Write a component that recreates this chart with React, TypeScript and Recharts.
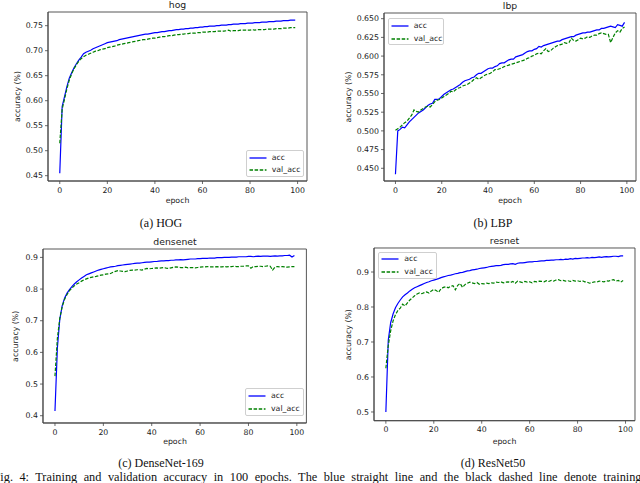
import React from 'react';
import { LineChart, Line, XAxis, YAxis, Legend, ReferenceArea } from 'recharts';

const epochs: number[] = Array.from({ length: 100 }, (_, i) => i);
const xTicks = [0, 20, 40, 60, 80, 100];

const hogAcc = [
  0.455, 0.588, 0.608, 0.628, 0.645, 0.656, 0.666, 0.674, 0.681, 0.687,
  0.694, 0.697, 0.699, 0.701, 0.704, 0.706, 0.708, 0.710, 0.712, 0.714,
  0.716, 0.717, 0.718, 0.719, 0.720, 0.722, 0.723, 0.724, 0.725, 0.726,
  0.727, 0.728, 0.729, 0.730, 0.731, 0.732, 0.733, 0.733, 0.734, 0.735,
  0.736, 0.736, 0.737, 0.738, 0.738, 0.739, 0.740, 0.740, 0.741, 0.742,
  0.742, 0.743, 0.743, 0.744, 0.744, 0.745, 0.745, 0.746, 0.746, 0.747,
  0.747, 0.748, 0.748, 0.749, 0.749, 0.749, 0.750, 0.750, 0.751, 0.751,
  0.751, 0.752, 0.752, 0.753, 0.753, 0.753, 0.754, 0.754, 0.754, 0.755,
  0.755, 0.755, 0.756, 0.756, 0.756, 0.757, 0.757, 0.757, 0.758, 0.758,
  0.758, 0.759, 0.759, 0.759, 0.760, 0.760, 0.760, 0.761, 0.761, 0.761,
];
const hogVal = [
  0.515, 0.583, 0.603, 0.624, 0.641, 0.654, 0.664, 0.672, 0.679, 0.684,
  0.688, 0.691, 0.693, 0.695, 0.697, 0.699, 0.700, 0.702, 0.703, 0.704,
  0.706, 0.707, 0.708, 0.709, 0.711, 0.712, 0.713, 0.714, 0.715, 0.716,
  0.717, 0.718, 0.719, 0.720, 0.721, 0.722, 0.722, 0.723, 0.724, 0.725,
  0.725, 0.726, 0.727, 0.728, 0.728, 0.729, 0.730, 0.730, 0.731, 0.732,
  0.732, 0.733, 0.733, 0.734, 0.734, 0.735, 0.735, 0.735, 0.736, 0.736,
  0.737, 0.737, 0.737, 0.738, 0.738, 0.738, 0.739, 0.739, 0.739, 0.739,
  0.740, 0.741, 0.739, 0.740, 0.740, 0.740, 0.741, 0.741, 0.741, 0.741,
  0.741, 0.742, 0.741, 0.742, 0.742, 0.742, 0.742, 0.743, 0.743, 0.743,
  0.743, 0.744, 0.744, 0.744, 0.745, 0.745, 0.745, 0.746, 0.746, 0.746,
];
const lbpAcc = [
  0.442, 0.500, 0.502, 0.505, 0.504, 0.508, 0.512, 0.515, 0.518, 0.521,
  0.524, 0.526, 0.528, 0.531, 0.534, 0.536, 0.537, 0.542, 0.542, 0.543,
  0.546, 0.549, 0.551, 0.553, 0.555, 0.556, 0.558, 0.560, 0.562, 0.565,
  0.567, 0.568, 0.569, 0.571, 0.572, 0.575, 0.577, 0.577, 0.579, 0.581,
  0.583, 0.584, 0.584, 0.586, 0.587, 0.590, 0.591, 0.591, 0.593, 0.595,
  0.596, 0.596, 0.599, 0.600, 0.601, 0.602, 0.604, 0.606, 0.607, 0.607,
  0.609, 0.610, 0.613, 0.612, 0.614, 0.615, 0.616, 0.617, 0.618, 0.619,
  0.620, 0.620, 0.622, 0.623, 0.624, 0.625, 0.626, 0.626, 0.628, 0.629,
  0.630, 0.631, 0.631, 0.632, 0.632, 0.633, 0.634, 0.635, 0.635, 0.637,
  0.637, 0.638, 0.639, 0.640, 0.639, 0.638, 0.642, 0.641, 0.640, 0.645,
];
const lbpVal = [
  0.501, 0.503, 0.505, 0.508, 0.511, 0.513, 0.517, 0.521, 0.528, 0.526,
  0.525, 0.528, 0.530, 0.532, 0.533, 0.532, 0.535, 0.539, 0.541, 0.542,
  0.544, 0.546, 0.548, 0.550, 0.553, 0.552, 0.555, 0.557, 0.558, 0.560,
  0.561, 0.562, 0.564, 0.566, 0.569, 0.571, 0.569, 0.571, 0.573, 0.575,
  0.576, 0.577, 0.579, 0.582, 0.582, 0.583, 0.584, 0.586, 0.587, 0.588,
  0.589, 0.590, 0.591, 0.592, 0.593, 0.594, 0.595, 0.597, 0.598, 0.600,
  0.601, 0.603, 0.604, 0.603, 0.607, 0.610, 0.606, 0.607, 0.610, 0.612,
  0.614, 0.615, 0.616, 0.618, 0.617, 0.618, 0.624, 0.621, 0.620, 0.622,
  0.624, 0.623, 0.624, 0.626, 0.625, 0.627, 0.628, 0.628, 0.630, 0.631,
  0.630, 0.629, 0.629, 0.618, 0.625, 0.631, 0.634, 0.632, 0.637, 0.639,
];
const denseAcc = [
  0.415, 0.615, 0.705, 0.748, 0.772, 0.787, 0.798, 0.808, 0.816, 0.823,
  0.829, 0.835, 0.840, 0.845, 0.848, 0.851, 0.854, 0.857, 0.860, 0.862,
  0.864, 0.866, 0.868, 0.870, 0.871, 0.872, 0.874, 0.875, 0.876, 0.877,
  0.878, 0.879, 0.880, 0.881, 0.882, 0.882, 0.883, 0.884, 0.885, 0.885,
  0.886, 0.887, 0.887, 0.888, 0.889, 0.889, 0.890, 0.890, 0.891, 0.891,
  0.892, 0.892, 0.893, 0.892, 0.893, 0.894, 0.895, 0.895, 0.895, 0.896,
  0.896, 0.897, 0.897, 0.897, 0.898, 0.898, 0.898, 0.899, 0.899, 0.899,
  0.900, 0.900, 0.900, 0.901, 0.901, 0.901, 0.902, 0.902, 0.902, 0.902,
  0.903, 0.903, 0.902, 0.903, 0.904, 0.903, 0.904, 0.904, 0.904, 0.903,
  0.904, 0.905, 0.904, 0.905, 0.905, 0.906, 0.906, 0.907, 0.901, 0.906,
];
const denseVal = [
  0.525, 0.645, 0.708, 0.745, 0.768, 0.783, 0.795, 0.803, 0.810, 0.816,
  0.820, 0.825, 0.829, 0.832, 0.835, 0.837, 0.839, 0.840, 0.842, 0.844,
  0.845, 0.847, 0.848, 0.849, 0.853, 0.856, 0.858, 0.857, 0.856, 0.855,
  0.857, 0.859, 0.860, 0.860, 0.861, 0.861, 0.860, 0.863, 0.865, 0.864,
  0.865, 0.866, 0.867, 0.866, 0.867, 0.868, 0.866, 0.865, 0.867, 0.869,
  0.870, 0.869, 0.868, 0.868, 0.869, 0.867, 0.868, 0.868, 0.867, 0.868,
  0.869, 0.870, 0.870, 0.871, 0.870, 0.870, 0.870, 0.871, 0.870, 0.870,
  0.871, 0.870, 0.871, 0.871, 0.872, 0.871, 0.871, 0.872, 0.872, 0.873,
  0.873, 0.866, 0.871, 0.871, 0.872, 0.872, 0.871, 0.872, 0.873, 0.872,
  0.860, 0.870, 0.871, 0.870, 0.871, 0.870, 0.869, 0.870, 0.871, 0.871,
];
const resAcc = [
  0.500, 0.705, 0.755, 0.780, 0.798, 0.810, 0.820, 0.829, 0.835, 0.840,
  0.846, 0.851, 0.855, 0.858, 0.861, 0.864, 0.867, 0.870, 0.872, 0.875,
  0.877, 0.879, 0.881, 0.884, 0.886, 0.888, 0.890, 0.891, 0.893, 0.895,
  0.896, 0.898, 0.899, 0.901, 0.903, 0.904, 0.906, 0.907, 0.908, 0.910,
  0.911, 0.912, 0.913, 0.915, 0.916, 0.917, 0.918, 0.918, 0.919, 0.921,
  0.922, 0.922, 0.923, 0.924, 0.922, 0.925, 0.926, 0.926, 0.927, 0.928,
  0.929, 0.929, 0.930, 0.930, 0.931, 0.932, 0.932, 0.933, 0.933, 0.934,
  0.934, 0.935, 0.935, 0.936, 0.935, 0.937, 0.936, 0.938, 0.937, 0.939,
  0.938, 0.939, 0.940, 0.940, 0.941, 0.940, 0.942, 0.941, 0.942, 0.943,
  0.942, 0.943, 0.944, 0.943, 0.944, 0.945, 0.945, 0.944, 0.946, 0.946,
];
const resVal = [
  0.625, 0.690, 0.732, 0.760, 0.778, 0.790, 0.797, 0.808, 0.803, 0.812,
  0.820, 0.826, 0.832, 0.837, 0.840, 0.838, 0.841, 0.843, 0.840, 0.846,
  0.850, 0.847, 0.842, 0.852, 0.856, 0.858, 0.855, 0.859, 0.861, 0.849,
  0.862, 0.867, 0.856, 0.864, 0.868, 0.871, 0.869, 0.867, 0.870, 0.865,
  0.867, 0.866, 0.868, 0.867, 0.869, 0.868, 0.871, 0.870, 0.872, 0.869,
  0.871, 0.872, 0.870, 0.873, 0.868, 0.874, 0.872, 0.870, 0.873, 0.871,
  0.872, 0.869, 0.873, 0.872, 0.874, 0.873, 0.872, 0.875, 0.873, 0.876,
  0.874, 0.877, 0.878, 0.875, 0.876, 0.874, 0.875, 0.873, 0.876, 0.874,
  0.875, 0.873, 0.875, 0.872, 0.871, 0.868, 0.870, 0.872, 0.871, 0.874,
  0.873, 0.872, 0.875, 0.874, 0.877, 0.878, 0.874, 0.876, 0.871, 0.876,
];

const hogTicks = [0.45, 0.5, 0.55, 0.6, 0.65, 0.7, 0.75];
const lbpTicks = [0.45, 0.475, 0.5, 0.525, 0.55, 0.575, 0.6, 0.625, 0.65];
const denseTicks = [0.4, 0.5, 0.6, 0.7, 0.8, 0.9];
const resTicks = [0.5, 0.6, 0.7, 0.8, 0.9];

const titles = ['hog', 'lbp', 'densenet', 'resnet'];
const captions = ['(a) HOG', '(b) LBP', '(c) DenseNet-169', '(d) ResNet50'];
const seriesNames = ['acc', 'val_acc'];
const xLabel = 'epoch';
const yLabel = 'accuracy (%)';
const figText =
  'Fig. 4: Training and validation accuracy in 100 epochs. The blue straight line and the black dashed line denote training';

const SANS = 'DejaVu Sans';
const SERIF = 'Liberation Serif';
const TXT = '#222';
const AX = '#444';
const TICK_FS = 7.8;
const X_DOMAIN: [number, number] = [-4.95, 103.95];

type Cfg = {
  acc: number[];
  val: number[];
  L: number; R: number; T: number; B: number;
  yDomain: [number, number];
  yTicks: number[];
  dec: number;
  legend: { x: number; y: number; w: number; h: number };
};

const panels: Cfg[] = [
  { acc: hogAcc, val: hogVal, L: 48, R: 307, T: 12, B: 181, yDomain: [0.4394, 0.7774], yTicks: hogTicks, dec: 2,
    legend: { x: 245.7, y: 150, w: 58, h: 27 } },
  { acc: lbpAcc, val: lbpVal, L: 384, R: 636, T: 13, B: 181, yDomain: [0.433, 0.6576], yTicks: lbpTicks, dec: 3,
    legend: { x: 387.7, y: 18.3, w: 56, h: 26.5 } },
  { acc: denseAcc, val: denseVal, L: 43.3, R: 306.7, T: 249.3, B: 423.3, yDomain: [0.377, 0.9265], yTicks: denseTicks, dec: 1,
    legend: { x: 245, y: 388.5, w: 59, h: 28 } },
  { acc: resAcc, val: resVal, L: 374, R: 635, T: 248.3, B: 421, yDomain: [0.4751, 0.9686], yTicks: resTicks, dec: 1,
    legend: { x: 378.3, y: 251.7, w: 58.5, h: 27 } },
];

const YW = 40;
const XH = 14;
const PAD_T = 2;
const PAD_R = 3;

function makeLegend(w: number, h: number) {
  return (props: any) => {
    const items: any[] = props.payload || [];
    return (
      <div
        style={{
          width: w, height: h, boxSizing: 'border-box', border: '1px solid #cfcfcf', borderRadius: 2,
          background: 'rgba(255,255,255,0.85)', paddingTop: 0.5,
        }}
      >
        {items.map((it) => (
          <div key={String(it.dataKey)} style={{ height: 12.5, display: 'flex', alignItems: 'center' }}>
            <svg width={25} height={12} style={{ display: 'block' }}>
              <line
                x1={2.5} x2={19.5} y1={6} y2={6} stroke={it.color} strokeWidth={1.3}
                strokeDasharray={it.dataKey === 'val_acc' ? '3.5 1.6' : undefined}
              />
            </svg>
            <span style={{ fontFamily: SANS, fontSize: TICK_FS, color: TXT, lineHeight: '12px' }}>{it.value}</span>
          </div>
        ))}
      </div>
    );
  };
}

function Panel({ cfg }: { cfg: Cfg }) {
  const data = epochs.map((e, i) => ({ epoch: e, acc: cfg.acc[i], val_acc: cfg.val[i] }));
  const w = cfg.R - cfg.L + YW + PAD_R;
  const h = cfg.B - cfg.T + PAD_T + XH;
  const left = cfg.L - YW;
  const top = cfg.T - PAD_T;
  const tickStyle = { fontFamily: SANS, fontSize: TICK_FS, fill: TXT };
  return (
    <div style={{ position: 'absolute', left, top, width: w, height: h }}>
      <LineChart width={w} height={h} data={data} margin={{ top: PAD_T, right: PAD_R, bottom: 0, left: 0 }}>
        <XAxis
          xAxisId="b" dataKey="epoch" type="number" domain={X_DOMAIN} allowDataOverflow ticks={xTicks}
          interval={0} height={XH} tickSize={3} tickMargin={3} tick={tickStyle}
          stroke={AX} axisLine={{ stroke: AX, strokeWidth: 0.9 }} tickLine={{ stroke: AX, strokeWidth: 0.8 }}
        />
        <YAxis
          yAxisId="l" type="number" domain={cfg.yDomain} allowDataOverflow ticks={cfg.yTicks} interval={0}
          width={YW} tickSize={3} tickMargin={2} tick={tickStyle}
          tickFormatter={(v: number) => v.toFixed(cfg.dec)}
          axisLine={{ stroke: AX, strokeWidth: 0.9 }} tickLine={{ stroke: AX, strokeWidth: 0.8 }}
        />
        <Line
          xAxisId="b" yAxisId="l" type="linear" dataKey="acc" name={seriesNames[0]} stroke="#0000ff"
          strokeWidth={1.2} dot={false} activeDot={false} isAnimationActive={false}
        />
        <Line
          xAxisId="b" yAxisId="l" type="linear" dataKey="val_acc" name={seriesNames[1]} stroke="#008000"
          strokeWidth={1.2} strokeDasharray="3.5 1.6" dot={false} activeDot={false} isAnimationActive={false}
        />
        <ReferenceArea
          xAxisId="b" yAxisId="l" x1={X_DOMAIN[0]} x2={X_DOMAIN[1]} y1={cfg.yDomain[0]} y2={cfg.yDomain[1]}
          fill="none" fillOpacity={0} stroke={AX} strokeWidth={0.9} ifOverflow="visible"
        />
        <Legend
          layout="horizontal" align="center" verticalAlign="middle"
          content={makeLegend(cfg.legend.w, cfg.legend.h)}
          wrapperStyle={{ left: cfg.legend.x - left, top: cfg.legend.y - top, width: cfg.legend.w, height: cfg.legend.h, bottom: 'auto', right: 'auto' }}
        />
      </LineChart>
    </div>
  );
}

const titlePos = [
  { x: 177.5, y: 7.5 }, { x: 510, y: 8.5 }, { x: 175, y: 244.5 }, { x: 504.5, y: 243.5 },
];
const xLabelPos = [
  { x: 177.5, y: 202.5 }, { x: 510, y: 203 }, { x: 175, y: 443.5 }, { x: 504.5, y: 443.5 },
];
const yLabelPos = [
  { x: 19.5, y: 96.5 }, { x: 351, y: 97 }, { x: 18.5, y: 336.3 }, { x: 351.5, y: 334.7 },
];
const capPos = [
  { x: 161, y: 226.5 }, { x: 493, y: 226.8 }, { x: 161, y: 466.5 }, { x: 493, y: 466.5 },
];

export default function App() {
  return (
    <div style={{ position: 'absolute', left: 0, top: 0, width: 640, height: 483, overflow: 'hidden', background: '#fff' }}>
      {panels.map((p, i) => (
        <Panel key={i} cfg={p} />
      ))}
      <svg width={640} height={483} style={{ position: 'absolute', left: 0, top: 0, pointerEvents: 'none' }}>
        {titles.map((t, i) => (
          <text key={'t' + i} x={titlePos[i].x} y={titlePos[i].y} textAnchor="middle" fontFamily={SANS} fontSize={9.3} fill={TXT}>
            {t}
          </text>
        ))}
        {xLabelPos.map((p, i) => (
          <text key={'x' + i} x={p.x} y={p.y} textAnchor="middle" fontFamily={SANS} fontSize={TICK_FS} fill={TXT}>
            {xLabel}
          </text>
        ))}
        {yLabelPos.map((p, i) => (
          <text key={'y' + i} x={p.x} y={p.y} textAnchor="middle" fontFamily={SANS} fontSize={TICK_FS} fill={TXT}
            transform={`rotate(-90 ${p.x} ${p.y})`}>
            {yLabel}
          </text>
        ))}
        {captions.map((c, i) => (
          <text key={'c' + i} x={capPos[i].x} y={capPos[i].y} textAnchor="middle" fontFamily={SERIF} fontSize={12} fill="#111">
            {c}
          </text>
        ))}
        <text x={-6.5} y={481} fontFamily={SERIF} fontSize={12.3} fill="#111" style={{ wordSpacing: '3.4px' }}>
          {figText}
        </text>
      </svg>
    </div>
  );
}
